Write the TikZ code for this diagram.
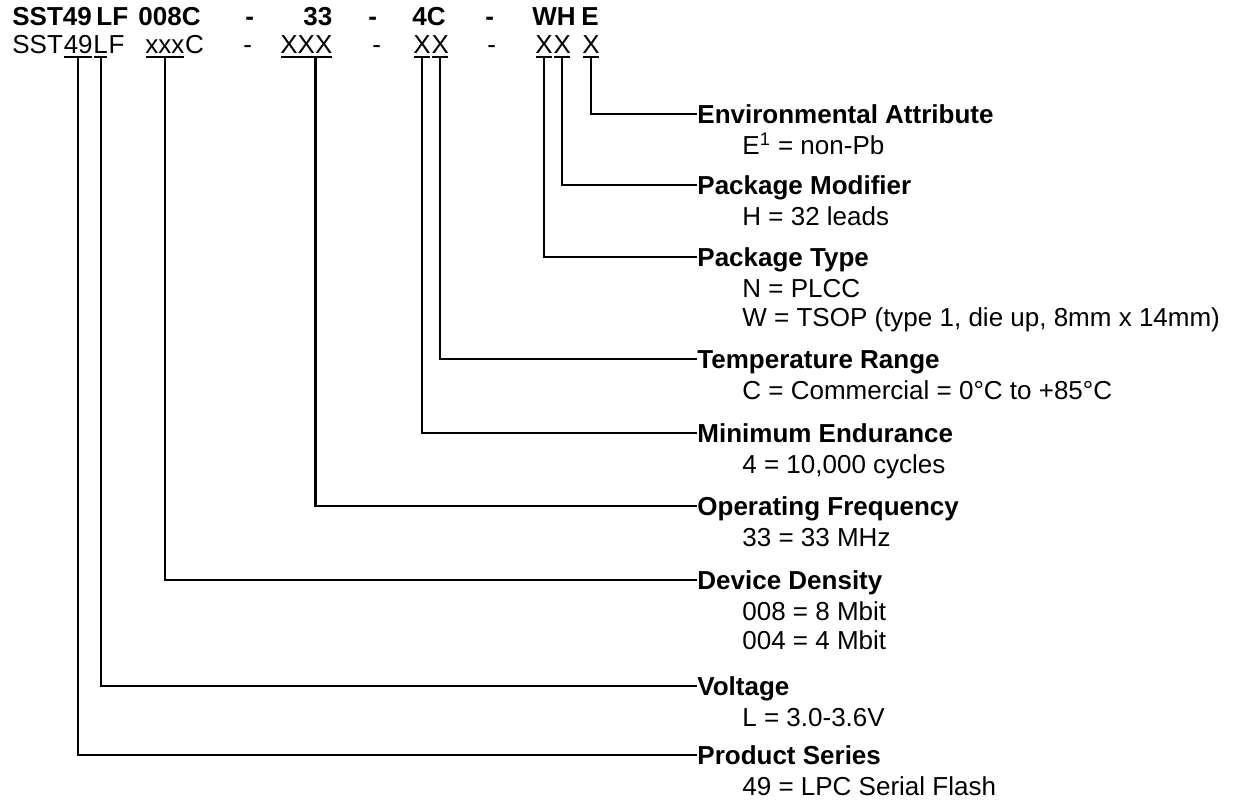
\documentclass[tikz,border=0pt]{standalone}
\usepackage{fontspec}
\setmainfont{Liberation Sans}
\usetikzlibrary{calc}
\tikzset{
  font={\fontsize{13pt}{14.5pt}\selectfont}}

\begin{document}
\begin{tikzpicture}[x=0.5pt,y=-0.5pt,
  code/.style={anchor=base west,inner sep=0pt},
  hdr/.style={code,font={\fontsize{13pt}{14.5pt}\selectfont\bfseries}},
  ul/.style={code,text depth=2pt},
  ttl/.style={anchor=west,inner sep=0pt,text height=9.3pt,text depth=0pt,
    font={\fontsize{13pt}{14.5pt}\selectfont\bfseries}},
  sub/.style={anchor=base west,inner sep=0pt},
  conn/.style={line width=1.2pt}]
\useasboundingbox (0,0) rectangle (1237,799);
% part number
\node[hdr] (hSST) at (12,25) {SST49};
\node[hdr] (hLF) at (96,25) {LF};
\node[hdr] (hDen) at (138,25) {008C};
\node[hdr] (hd1) at (245,25) {-};
\node[hdr] (hFrq) at (303,25) {33};
\node[hdr] (hd2) at (368,25) {-};
\node[hdr] (hEnd) at (412,25) {4C};
\node[hdr] (hd3) at (485,25) {-};
\node[hdr] (hPkg) at (532,25) {WH};
\node[hdr] (hEnv) at (581,25) {E};
% template
\node[code] (cSST) at (12,53) {SST};
\node[ul] (cSer) at (cSST.base east) {49};
\node[ul] (cVlt) at (cSer.base east) {L};
\node[code] (cF) at (cVlt.base east) {F};
\node[ul] (cDen) at (145,53) {xxx};
\node[code] (cC) at (cDen.base east) {C};
\node[code] (cd1) at (243,53) {-};
\node[ul] (cFrq) at (280,53) {XXX};
\node[code] (cd2) at (372,53) {-};
\node[ul] (cEnd) at (413,53) {X};
\node[ul] (cTmp) at (cEnd.base east) {X};
\node[code] (cd3) at (487,53) {-};
\node[ul] (cPkg) at (535,53) {X};
\node[ul] (cMod) at (cPkg.base east) {X};
\node[ul] (cEnv) at (582,53) {X};
\foreach \n in {cSer,cVlt,cDen,cFrq,cEnd,cTmp,cPkg,cMod,cEnv}
  \draw[line width=1pt] ([xshift=0.5pt]\n.south west) -- ([xshift=-0.5pt]\n.south east);
% fields
\node[ttl] (tEnv) at (697,114) {Environmental Attribute};
\node[sub] (sEnv) at ($(tEnv.base west)+(45,31)$) {E\textsuperscript{1} = non-Pb};
\node[ttl] (tMod) at (697,185) {Package Modifier};
\node[sub] (sMod) at ($(tMod.base west)+(45,31)$) {H = 32 leads};
\node[ttl] (tPkg) at (697,257) {Package Type};
\node[sub] (sPkg1) at ($(tPkg.base west)+(45,31)$) {N = PLCC};
\node[sub] (sPkg2) at ($(sPkg1.base west)+(0,29)$) {W = TSOP (type 1, die up, 8mm x 14mm)};
\node[ttl] (tTmp) at (697,359) {Temperature Range};
\node[sub] (sTmp) at ($(tTmp.base west)+(45,31)$) {C = Commercial = 0°C to +85°C};
\node[ttl] (tEnd) at (697,433) {Minimum Endurance};
\node[sub] (sEnd) at ($(tEnd.base west)+(45,31)$) {4 = 10,000 cycles};
\node[ttl] (tFrq) at (697,506) {Operating Frequency};
\node[sub] (sFrq) at ($(tFrq.base west)+(45,31)$) {33 = 33 MHz};
\node[ttl] (tDen) at (697,580) {Device Density};
\node[sub] (sDen1) at ($(tDen.base west)+(45,31)$) {008 = 8 Mbit};
\node[sub] (sDen2) at ($(sDen1.base west)+(0,29)$) {004 = 4 Mbit};
\node[ttl] (tVlt) at (697,686) {Voltage};
\node[sub] (sVlt) at ($(tVlt.base west)+(45,31)$) {L = 3.0-3.6V};
\node[ttl] (tSer) at (697,755) {Product Series};
\node[sub] (sSer) at ($(tSer.base west)+(45,31)$) {49 = LPC Serial Flash};
% connectors
\draw[conn] (cEnv.south) |- (tEnv.west);
\draw[conn] (cMod.south) |- (tMod.west);
\draw[conn] (cPkg.south) |- (tPkg.west);
\draw[conn] (cTmp.south) |- (tTmp.west);
\draw[conn] (cEnd.south) |- (tEnd.west);
\draw[conn] ([xshift=4.5pt]cFrq.south) |- (tFrq.west);
\draw[conn] (cDen.south) |- (tDen.west);
\draw[conn] (cVlt.south) |- (tVlt.west);
\draw[conn] (cSer.south) |- (tSer.west);
\end{tikzpicture}
\end{document}
